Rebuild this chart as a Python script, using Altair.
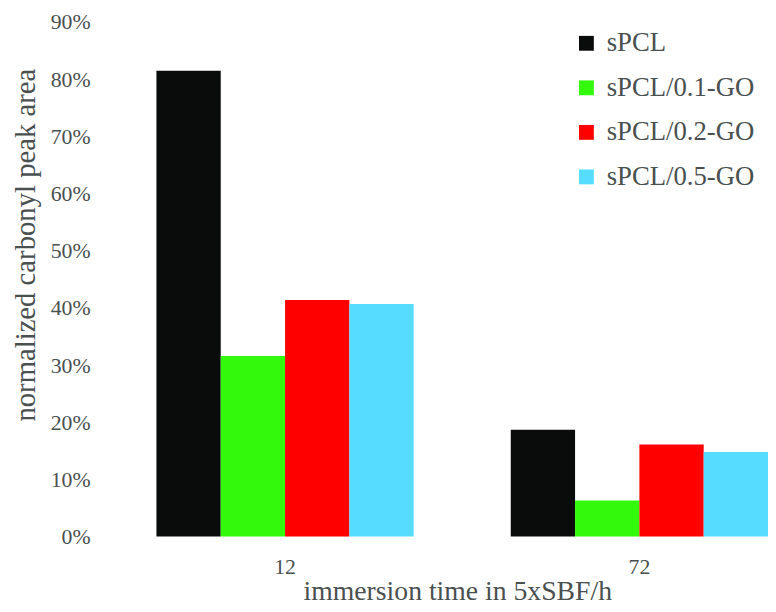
import altair as alt
import pandas as pd

times = ["12", "72"]
series = ["sPCL", "sPCL/0.1-GO", "sPCL/0.2-GO", "sPCL/0.5-GO"]
colors = ["#0a0c0b", "#33f90c", "#ff0000", "#56dcfe"]
values_12 = [0.815, 0.316, 0.414, 0.407]
values_72 = [0.187, 0.063, 0.161, 0.148]
y_ticks = [0, 0.1, 0.2, 0.3, 0.4, 0.5, 0.6, 0.7, 0.8, 0.9]

rows = []
for s, v in zip(series, values_12):
    rows.append({"time": "12", "series": s, "value": v})
for s, v in zip(series, values_72):
    rows.append({"time": "72", "series": s, "value": v})
df = pd.DataFrame(rows)

FONT = "Liberation Serif"
TXT = "#4a5050"

chart = alt.Chart(df).mark_bar().encode(
    x=alt.X(
        "time:N",
        sort=times,
        scale=alt.Scale(paddingInner=0.274, paddingOuter=0.0684, align=1),
        axis=alt.Axis(
            title="immersion time in 5xSBF/h",
            labelAngle=0,
            ticks=False,
            domain=False,
            labelPadding=20,
            labelFontSize=22,
            titleFontSize=28,
            titleX=353,
            titleY=56,
            titleBaseline="middle",
            titleAlign="center",
        ),
    ),
    xOffset=alt.XOffset("series:N", sort=series,
                        scale=alt.Scale(paddingInner=0, paddingOuter=0)),
    y=alt.Y(
        "value:Q",
        scale=alt.Scale(domain=[0, 0.9], nice=False),
        axis=alt.Axis(
            title="normalized carbonyl peak area",
            values=y_ticks,
            format=".0%",
            grid=False,
            ticks=False,
            domain=False,
            labelPadding=18,
            labelFontSize=22,
            titleFontSize=29,
            titleX=-83,
            titleY=225,
            titleBaseline="middle",
            titleAlign="center",
        ),
    ),
    color=alt.Color(
        "series:N",
        sort=series,
        scale=alt.Scale(domain=series, range=colors),
        legend=alt.Legend(
            title=None,
            orient="none",
            legendX=470,
            legendY=8,
            symbolType="square",
            symbolSize=225,
            symbolStrokeWidth=0,
            labelFontSize=27,
            labelOffset=7,
            rowPadding=17,
            padding=0,
        ),
    ),
).properties(
    width=667,
    height=520,
    autosize=alt.AutoSizeParams(type="none"),
    padding={"left": 101, "top": 11, "right": 0, "bottom": 73},
).configure_axis(
    labelFont=FONT,
    titleFont=FONT,
    labelColor=TXT,
    titleColor=TXT,
    titleFontWeight="normal",
).configure_legend(
    labelFont=FONT,
    labelColor=TXT,
).configure_view(stroke=None)

chart.save("out.html", embed_options={"renderer": "svg", "actions": False})
